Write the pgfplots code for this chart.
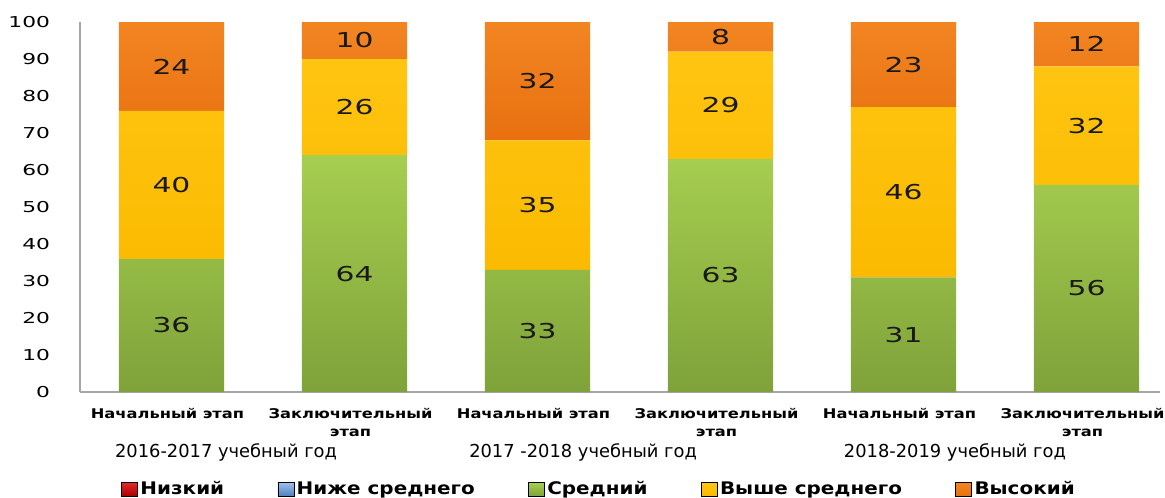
\documentclass[border=0pt]{standalone}
\usepackage{pgfplots}
\pgfplotsset{compat=1.18}
\usepackage{fontspec}
\setmainfont{DejaVu Sans}
\newfontfamily\numfont[FakeStretch=1.45]{DejaVu Sans}
\newfontfamily\datfont[FakeStretch=1.45]{DejaVu Sans}
\newfontfamily\catfont[FakeStretch=1.22]{DejaVu Sans}
\newfontfamily\legfont[FakeStretch=1.15]{DejaVu Sans}
\definecolor{grnT}{HTML}{A6CE4F}
\definecolor{grnB}{HTML}{7FA23A}
\definecolor{ylwT}{HTML}{FFC512}
\definecolor{ylwB}{HTML}{FBBA00}
\definecolor{orT}{HTML}{F28522}
\definecolor{orB}{HTML}{E8700F}
\definecolor{redT}{HTML}{E52A2A}
\definecolor{redB}{HTML}{A80000}
\definecolor{bluT}{HTML}{9CC0EA}
\definecolor{bluB}{HTML}{4F81BD}
\definecolor{axgray}{HTML}{A6A6A6}
\pgfplotsset{common/.style={scale only axis, width=809.8pt, height=277.5pt,
  xmin=-0.5, xmax=5.4, ymin=0, ymax=100, clip=false}}
\begin{document}
\begin{tikzpicture}
\path[use as bounding box] (-60pt,-78.75pt) rectangle (813.75pt,294pt);
\begin{axis}[
  common,
  ybar stacked, bar width=0.575,
  axis x line=bottom, axis y line=left,
  axis line style={axgray, line width=0.8pt, -},
  ytick={0,10,...,100}, xtick={0,...,5},
  major tick length=0pt,
  /pgf/number format/assume math mode=true,
  yticklabel style={font=\numfont\fontsize{11.25}{13}\selectfont, xshift=-19pt},
  xticklabels={{Начальный этап},{Заключительный\\этап},{Начальный этап},{Заключительный\\этап},{Начальный этап},{Заключительный\\этап}},
  xticklabel style={align=center, font=\catfont\bfseries\fontsize{10}{13.5}\selectfont, yshift=-9pt, xshift=-3pt},
  legend columns=5,
  legend style={at={(0.481,-0.263)}, anchor=center, draw=none, fill=none,
    font=\legfont\bfseries\fontsize{13}{15}\selectfont,
    /tikz/every even column/.append style={column sep=38pt}},
]
\addlegendimage{legend image code/.code={\fill[top color=redT, bottom color=redB] (0pt,-5pt) rectangle (12pt,5pt);}}
\addlegendimage{legend image code/.code={\fill[top color=bluT, bottom color=bluB] (0pt,-5pt) rectangle (12pt,5pt);}}
\addlegendimage{legend image code/.code={\fill[top color=grnT, bottom color=grnB] (0pt,-5pt) rectangle (12pt,5pt);}}
\addlegendimage{legend image code/.code={\fill[top color=ylwT, bottom color=ylwB] (0pt,-5pt) rectangle (12pt,5pt);}}
\addlegendimage{legend image code/.code={\fill[top color=orT, bottom color=orB] (0pt,-5pt) rectangle (12pt,5pt);}}
% Средний
\addplot[draw=none, top color=grnT, bottom color=grnB]
  coordinates {(0,36) (1,64) (2,33) (3,63) (4,31) (5,56)};
% Выше среднего
\addplot[draw=none, top color=ylwT, bottom color=ylwB]
  coordinates {(0,40) (1,26) (2,35) (3,29) (4,46) (5,32)};
% Высокий
\addplot[draw=none, top color=orT, bottom color=orB]
  coordinates {(0,24) (1,10) (2,32) (3,8) (4,23) (5,12)};
\legend{Низкий, Ниже среднего, Средний, Выше среднего, Высокий}
\node[font=\fontsize{13.4}{16}\selectfont, anchor=base, yshift=-48.75pt] at (axis cs:0.298,0) {2016-2017 учебный год};
\node[font=\fontsize{13.4}{16}\selectfont, anchor=base, yshift=-48.75pt] at (axis cs:2.249,0) {2017 -2018 учебный год};
\node[font=\fontsize{13.4}{16}\selectfont, anchor=base, yshift=-48.75pt] at (axis cs:4.281,0) {2018-2019 учебный год};
\end{axis}
% labels layer: value labels at the middle of each segment
\begin{axis}[
  common, hide axis,
  point meta=explicit symbolic,
  nodes near coords={\datfont\fontsize{15.4}{17}\selectfont\pgfplotspointmeta},
  every node near coord/.append style={anchor=center, text=black!90},
]
\addplot[only marks, mark=*, mark size=0pt, mark options={draw=none, fill=none}]
  coordinates {(0,18) [36] (1,32) [64] (2,16.5) [33] (3,31.5) [63] (4,15.5) [31] (5,28) [56]};
\addplot[only marks, mark=*, mark size=0pt, mark options={draw=none, fill=none}]
  coordinates {(0,56) [40] (1,77) [26] (2,50.5) [35] (3,77.5) [29] (4,54) [46] (5,72) [32]};
\addplot[only marks, mark=*, mark size=0pt, mark options={draw=none, fill=none}]
  coordinates {(0,88) [24] (1,95) [10] (2,84) [32] (3,96) [8] (4,88.5) [23] (5,94) [12]};
\end{axis}
\end{tikzpicture}
\end{document}
